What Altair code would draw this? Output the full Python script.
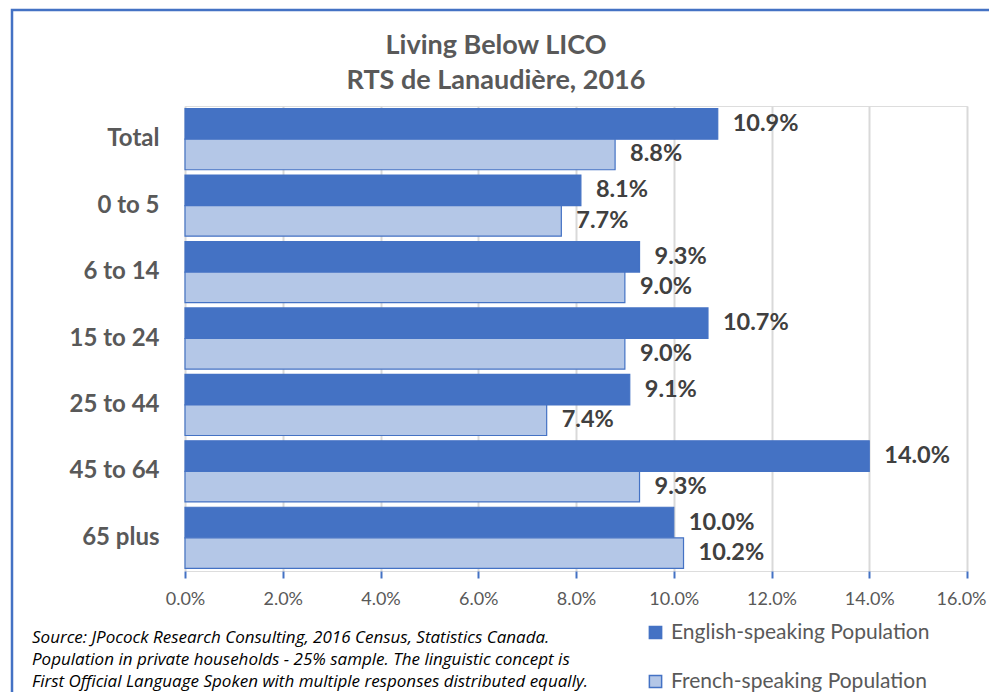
import altair as alt
import pandas as pd

categories = ["Total", "0 to 5", "6 to 14", "15 to 24", "25 to 44", "45 to 64", "65 plus"]
english = [10.9, 8.1, 9.3, 10.7, 9.1, 14.0, 10.0]
french = [8.8, 7.7, 9.0, 9.0, 7.4, 9.3, 10.2]
series = ["English-speaking Population", "French-speaking Population"]
x_ticks = [0, 0.02, 0.04, 0.06, 0.08, 0.10, 0.12, 0.14, 0.16]
title_lines = ["Living Below LICO", "RTS de Lanaudière, 2016"]
source_lines = [
    "Source: JPocock Research Consulting, 2016 Census, Statistics Canada.",
    "Population in private households - 25% sample. The linguistic concept is",
    "First Official Language Spoken with multiple responses distributed equally.",
]

rows = []
for c, e, f in zip(categories, english, french):
    rows.append({"cat": c, "series": series[0], "val": e / 100})
    rows.append({"cat": c, "series": series[1], "val": f / 100})
df = pd.DataFrame(rows)

BLUE = "#4472C4"
LIGHT = "#B4C7E7"
FONT = "Lato"

W, H = 782, 465

yscale = alt.Scale(domain=categories, paddingInner=0.08, paddingOuter=0.04)
y_enc = alt.Y("cat:N", sort=categories, scale=yscale,
              axis=alt.Axis(title=None, ticks=False, domain=False, labelFont=FONT,
                            labelFontSize=24, labelFontWeight="bold", labelColor="#595959",
                            labelPadding=26))
yoff = alt.YOffset("series:N", sort=series, scale=alt.Scale(domain=series, paddingInner=0, paddingOuter=0))

bars = alt.Chart(df).mark_bar(stroke=BLUE, strokeWidth=1.2).encode(
    x=alt.X("val:Q", scale=alt.Scale(domain=[0, 0.16], nice=False),
            axis=alt.Axis(title=None, format=".1%", values=x_ticks, domain=False,
                          tickColor=BLUE, tickWidth=2, tickSize=7, labelFont=FONT,
                          labelFontSize=18, labelColor="#595959", labelPadding=12,
                          labelFlush=False, labelOverlap=False,
                          labelOffset={"condition": {"test": "datum.value >= 0.159", "value": -6},
                                       "value": 0},
                          gridColor="#D9D9D9", gridWidth=2)),
    y=y_enc,
    yOffset=yoff,
    color=alt.Color("series:N", sort=series,
                    scale=alt.Scale(domain=series, range=[BLUE, LIGHT]),
                    legend=alt.Legend(title=None, orient="none", legendX=460, legendY=516,
                                      symbolType="square", symbolSize=150,
                                      symbolStrokeColor=BLUE, symbolStrokeWidth=1.5,
                                      labelFont=FONT, labelFontSize=21, labelColor="#595959",
                                      labelLimit=500, rowPadding=27, labelOffset=5)),
)

labels = alt.Chart(df).mark_text(align="left", baseline="middle", dx=15, font=FONT,
                                 fontSize=23.5, fontWeight="bold", color="#404040").encode(
    x=alt.X("val:Q"),
    y=alt.Y("cat:N", sort=categories),
    yOffset=alt.YOffset("series:N", sort=series),
    text=alt.Text("val:Q", format=".1%"),
)

title_df = pd.DataFrame({"t": ["\n".join(title_lines)]})
title = alt.Chart(title_df).mark_text(align="center", baseline="middle", font=FONT, fontSize=27,
                                      fontWeight="bold", color="#595959", lineHeight=35,
                                      lineBreak="\n").encode(
    x=alt.value(311), y=alt.value(-60), text="t:N")

src_df = pd.DataFrame({"t": ["\n".join(source_lines)]})
source = alt.Chart(src_df).mark_text(align="left", baseline="middle", font="Open Sans", fontSize=17,
                                     fontStyle="italic", color="#000000", lineHeight=22,
                                     lineBreak="\n").encode(
    x=alt.value(-153), y=alt.value(532), text="t:N")

border_df = pd.DataFrame({"a": [1]})
border = alt.Chart(border_df).mark_rect(fill=None, stroke=BLUE, strokeWidth=2.5).encode(
    x=alt.value(-173), x2=alt.value(W + 120), y=alt.value(-96), y2=alt.value(H + 200))

chart = alt.layer(border, bars, labels, title, source).properties(
    width=W, height=H,
    autosize=alt.AutoSizeParams(type="none"),
    padding={"left": 177, "top": 98, "right": 22, "bottom": 121},
).configure_view(stroke=BLUE, strokeWidth=2).configure(background="white")

chart.save("out.html", embed_options={"renderer": "svg", "actions": False})
